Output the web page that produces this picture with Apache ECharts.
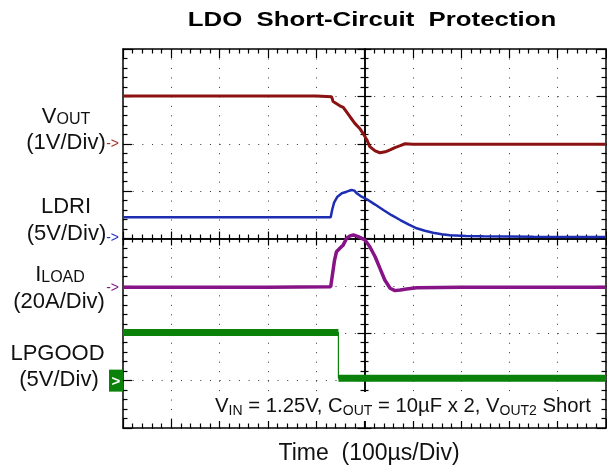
<!DOCTYPE html>
<html><head><meta charset="utf-8">
<script src="https://cdn.jsdelivr.net/npm/echarts/dist/echarts.min.js"></script>
<style>html,body{margin:0;padding:0;background:#fff}#c{width:607px;height:474px}</style>
</head><body><div id="c"></div>
<script>
// ---- data (time in µs, values in channel units) ----
const voutT = [0, 100, 200, 300, 400, 432, 435, 449, 456, 470, 480, 491, 497, 505, 511, 522, 532, 543, 553, 563, 574, 584, 600, 700, 800, 900, 1000];
const voutV = [1.01, 1.01, 1.01, 1.01, 1.01, 0.99, 0.89, 0.80, 0.77, 0.57, 0.43, 0.31, 0.22, 0.08, -0.06, -0.15, -0.19, -0.17, -0.13, -0.08, -0.04, 0.0, -0.01, -0.01, -0.01, -0.01, -0.01];
const ldriT = [0, 150, 300, 430, 433, 437, 444, 453, 463, 473, 479, 484, 494, 505, 522, 539, 556, 574, 591, 608, 625, 642, 660, 677, 710, 746, 850, 1000];
const ldriV = [2.24, 2.24, 2.24, 2.24, 3.01, 3.78, 4.41, 4.77, 4.94, 5.12, 5.05, 4.77, 4.41, 4.14, 3.58, 3.01, 2.46, 1.95, 1.50, 1.08, 0.82, 0.61, 0.46, 0.34, 0.27, 0.23, 0.19, 0.16];
const iloadT = [0, 150, 300, 430, 433, 438, 442, 449, 456, 463, 470, 477, 487, 501, 511, 522, 532, 542, 553, 563, 574, 587, 608, 700, 850, 1000];
const iloadA = [-0.6, -0.6, -0.6, -0.35, 3.9, 10.9, 14.4, 15.9, 17.3, 20.1, 21.1, 21.5, 20.8, 19.4, 16.5, 12.3, 7.4, 2.5, -1.0, -2.0, -1.7, -1.3, -0.8, -0.6, -0.6, -0.6];
const lpgoodT = [0, 150, 300, 446, 446, 600, 800, 1000];
const lpgoodV = [5.08, 5.08, 5.08, 5.08, 0.26, 0.26, 0.26, 0.26];
// channel ground reference (division) and volts/amps per division
const refDiv = {vout: 6, ldri: 4, iload: 3, lpgood: 1};
const perDiv = {vout: 1, ldri: 5, iload: 20, lpgood: 5};
const titleText = 'LDO  Short-Circuit  Protection';
const xLabel = 'Time  (100µs/Div)';

function toDiv(ts, vs, ch) { return ts.map((t, i) => [t, refDiv[ch] + vs[i] / perDiv[ch]]); }
function withGaps(pts) {
  const out = [];
  pts.forEach((p, i) => { if (i > 0 && Math.abs(p[1] - pts[i-1][1]) > 0.4) out.push([p[0], '-']); out.push(p); });
  return out;
}

const FONT = '"Liberation Sans", Arial, sans-serif';
const GH = 379, GW = 483;
const tick = {color: '#000', width: 1.2};
function ax(dim, pos, offset, inside, maj, min, extra) {
  const base = {
    type: 'value', gridIndex: 0, position: pos, offset: offset,
    min: 0, max: dim === 'x' ? 1000 : 8, interval: dim === 'x' ? 100 : 1,
    axisLine: {show: true, onZero: false, lineStyle: {color: '#000', width: 1.5}},
    axisTick: {show: true, inside: inside, length: maj, lineStyle: tick},
    minorTick: {show: true, splitNumber: 5, length: min, lineStyle: tick},
    axisLabel: {show: false}, splitLine: {show: false}, minorSplitLine: {show: false},
    axisPointer: {show: false}
  };
  return Object.assign(base, extra || {});
}
const xAxes = [
  ax('x', 'bottom', 0, true, 9, 4.5, {splitLine: {show: true, lineStyle: {color: '#333', width: 1, type: [1, GH / 40 - 1]}}}),
  ax('x', 'top', 0, true, 9, 4.5),
  ax('x', 'bottom', -GH / 2, true, 7, 4),
  ax('x', 'bottom', -GH / 2, false, 7, 4)
];
const yAxes = [
  ax('y', 'left', 0, true, 9, 4.5, {
    splitLine: {show: true, lineStyle: {color: '#333', width: 1, type: [1, GW / 50 - 1]}},
    axisLabel: {show: true, margin: 0, showMinLabel: true, showMaxLabel: true,
      formatter: function (v) {
        if (v === refDiv.vout) return '{r|->}';
        if (v === refDiv.ldri) return '{b|->}';
        if (v === refDiv.iload) return '{p|->}';
        if (v === refDiv.lpgood) return '{g|>}';
        return '';
      },
      rich: {
        r: {color: '#a8302a', fontSize: 14, fontFamily: FONT, padding: [0, 4, 0, 0]},
        b: {color: '#2233c0', fontSize: 14, fontFamily: FONT, padding: [0, 4, 0, 0]},
        p: {color: '#8a1a8a', fontSize: 14, fontFamily: FONT, padding: [4, 4, 0, 0]},
        g: {color: '#fff', backgroundColor: '#0a820a', fontSize: 15, fontWeight: 'bold', fontFamily: FONT, width: 14, height: 20, align: 'center', padding: [2, 0, 0, 0]}
      }
    }
  }),
  ax('y', 'right', 0, true, 9, 4.5),
  ax('y', 'left', -GW / 2, true, 7, 4),
  ax('y', 'left', -GW / 2, false, 7, 4)
];

function txt(x, y, text, size, rich, extra) {
  return Object.assign({type: 'text', x: x, y: y, silent: true, z: 100,
    style: {text: text, fontSize: size, fontFamily: FONT, fill: '#111', align: 'center', verticalAlign: 'middle', rich: rich || {}}}, extra || {});
}
const subL = {m: {fontSize: 22, fontFamily: FONT, fill: '#111'}, s: {fontSize: 16, fontFamily: FONT, fill: '#111', padding: [6, 0, 0, 0]}};
const subA = {m: {fontSize: 20.3, fontFamily: FONT, fill: '#111'}, s: {fontSize: 14, fontFamily: FONT, fill: '#111', padding: [9, 0, 0, 0]}};

const chart = echarts.init(document.getElementById('c'), null, {renderer: 'canvas'});
chart.setOption({
  animation: false,
  backgroundColor: '#fff',
  grid: {left: 123, top: 49, width: GW, height: GH, outerBoundsMode: 'none', containLabel: false},
  xAxis: xAxes,
  yAxis: yAxes,
  graphic: [
    txt(372, 20, titleText, 20, null, {scaleX: 1.29, style: {text: titleText, font: 'bold 20px ' + FONT, fill: '#000', align: 'center', verticalAlign: 'middle'}}),
    txt(369, 454, xLabel, 23),
    txt(66, 117, '{m|V}{s|OUT}', 22, subL),
    txt(66, 142.5, '(1V/Div)', 22),
    txt(66, 206.5, 'LDRI', 22),
    txt(66.5, 233.5, '(5V/Div)', 22),
    txt(60, 274.5, '{m|I}{s|LOAD}', 22, subL),
    txt(59, 301.5, '(20A/Div)', 22),
    txt(57.5, 353.5, 'LPGOOD', 22),
    txt(59, 379.5, '(5V/Div)', 22),
    {type: 'text', x: 596, y: 406.5, silent: true, z: 100, style: {
      text: '{m|V}{s|IN}{m| = 1.25V, C}{s|OUT}{m| = 10µF x 2, V}{s|OUT2}{m| Short}',
      rich: subA, align: 'right', verticalAlign: 'middle', fontFamily: FONT, fontSize: 20,
      backgroundColor: '#fff', padding: [3, 5, 3, 7]}}
  ],
  series: [
    {type: 'line', name: 'LPGOOD edge', data: toDiv(lpgoodT, lpgoodV, 'lpgood'), showSymbol: false, symbol: 'none', silent: true,
      lineStyle: {color: '#0a820a', width: 1.2}, z: 2},
    {type: 'line', name: 'LPGOOD', data: withGaps(toDiv(lpgoodT, lpgoodV, 'lpgood')), showSymbol: false, symbol: 'none', silent: true, connectNulls: false,
      lineStyle: {color: '#0a820a', width: 7, cap: 'butt'}, z: 2},
    {type: 'line', name: 'ILOAD', data: toDiv(iloadT, iloadA, 'iload'), showSymbol: false, symbol: 'none', silent: true,
      lineStyle: {color: '#861486', width: 3.5}, z: 3},
    {type: 'line', name: 'LDRI', data: toDiv(ldriT, ldriV, 'ldri'), showSymbol: false, symbol: 'none', silent: true,
      lineStyle: {color: '#1c2db4', width: 2.5}, z: 4},
    {type: 'line', name: 'VOUT', data: toDiv(voutT, voutV, 'vout'), showSymbol: false, symbol: 'none', silent: true,
      lineStyle: {color: '#8a1212', width: 3}, z: 5}
  ]
});
</script></body></html>
